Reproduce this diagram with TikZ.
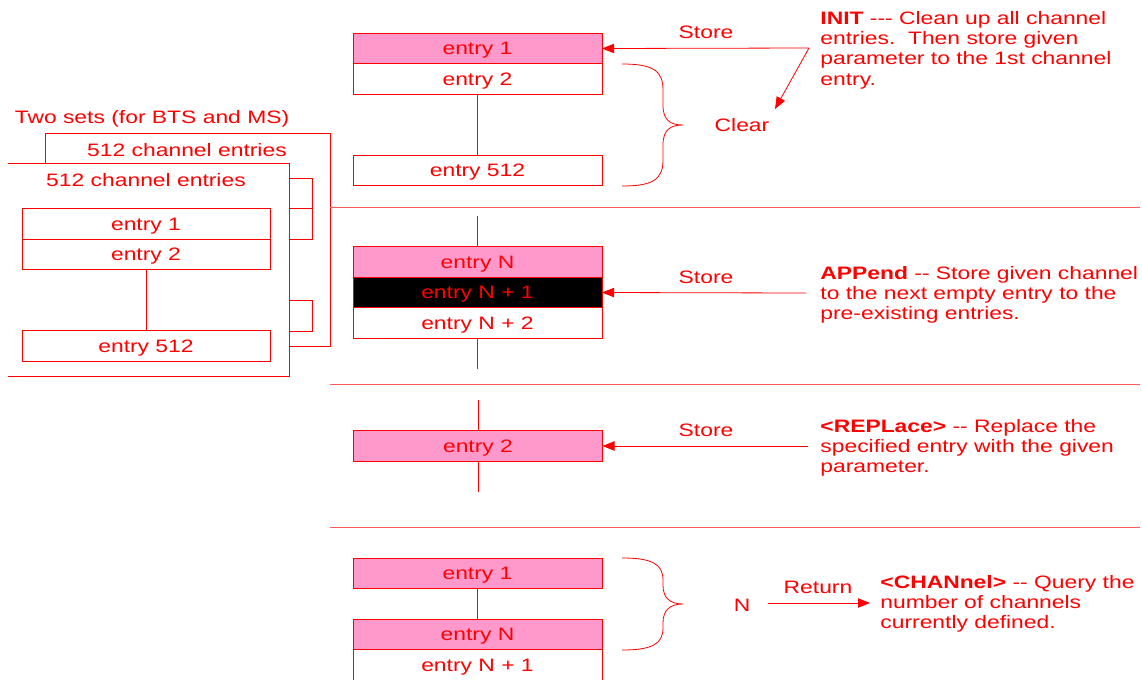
\documentclass[tikz,border=0pt]{standalone}
\usepackage{fontspec}
\setmainfont{Liberation Sans}[FakeStretch=1.27]
\usetikzlibrary{arrows.meta}
\definecolor{ink}{rgb}{1,0,0}
\definecolor{rose}{HTML}{FF99CC}
\definecolor{sep}{rgb}{1,0.35,0.35}
\begin{document}
\begin{tikzpicture}[x=0.75pt,y=-0.75pt,line width=0.6pt,
  every node/.style={text=ink,font=\fontsize{13.5pt}{15.2pt}\selectfont,inner sep=0pt},
  cell/.style={draw=ink,rectangle,minimum width=186.75pt,minimum height=22.9pt,outer sep=0pt,text depth=0pt},
  lcell/.style={cell,minimum width=186pt},
  hot/.style={fill=rose},
  lbl/.style={text depth=0pt},
  arr/.style={draw=ink,-{Triangle[length=9pt,width=7pt]}},
  desc/.style={align=left,anchor=north west},
  wire/.style={draw=ink},
  sepline/.style={draw=sep}]
\useasboundingbox (0,0) rectangle (1142,679);

% ---------- left: two sets ----------
\node[lbl] (twosets) at (152,117) {Two sets (for BTS and MS)};
\draw[wire] (45,163) -- (45,133) -- (330,133) -- (330,346) -- (289,346);
\node[lbl] (backlbl) at (187,150) {512 channel entries};
\draw[wire] (8,163) -- (289,163) -- (289,376) -- (8,376);
\node[lbl] (frontlbl) at (146,180) {512 channel entries};
\draw[wire] (289,178) -- (312,178) -- (312,239) -- (289,239);
\draw[wire] (289,208) -- (312,208);
\draw[wire] (289,300) -- (312,300) -- (312,331) -- (289,331);
\node[lcell] (l1) at (146,224) {entry 1};
\node[lcell] (l2) at (146,254.5) {entry 2};
\node[lcell] (l512) at (146,346) {entry 512};
\draw[wire] (l2.south) -- (l512.north);

% ---------- separators ----------
\draw[sepline] (330,207) -- (1140,207);
\draw[sepline] (330,384) -- (1140,384);
\draw[sepline] (330,527) -- (1140,527);

% ---------- INIT ----------
\node[cell,hot] (a1) at (477.5,48.5) {entry 1};
\node[cell] (a2) at (477.5,79) {entry 2};
\node[cell] (a512) at (477.5,170.5) {entry 512};
\draw[wire] (a2.south) -- (a512.north);
\draw[wire] (622,64) .. controls (652,64) and (663,70) .. (663,90) -- (663,105)
  .. controls (663,120) and (670,125) .. (683,125)
  .. controls (670,125) and (663,130) .. (663,145) -- (663,160)
  .. controls (663,180) and (652,186) .. (622,186);
\node[lbl] (clear) at (742,125) {Clear};
\coordinate (s1) at (809,48);
\coordinate (cleartip) at (775,109);
\draw[arr] (s1) -- (a1.east);
\draw[arr] (s1) -- (cleartip);
\node[lbl] (store1) at (706,32) {Store};
\node[desc] (init) at (820,11) {\textbf{INIT} -{}-{}- Clean up all channel\\entries.\ \ Then store given\\parameter to the 1st channel\\entry.};

% ---------- APPend ----------
\node[cell,hot] (bN) at (477.5,262) {entry N};
\node[cell,fill=black] (bN1) at (477.5,292.5) {entry N + 1};
\node[cell] (bN2) at (477.5,323) {entry N + 2};
\draw[wire] (bN.north) -- ++(0,-31);
\draw[wire] (bN2.south) -- ++(0,31);
\coordinate (s2) at (806,293);
\draw[arr] (s2) -- (bN1.east);
\node[lbl] (store2) at (706,277) {Store};
\node[desc] (append) at (820,266) {\textbf{APPend} -{}- Store given channel\\to the next empty entry to the\\pre-existing entries.};

% ---------- REPLace ----------
\node[cell,hot] (c2) at (478,446) {entry 2};
\draw[wire] (c2.north) -- ++(0,-31);
\draw[wire] (c2.south) -- ++(0,31);
\coordinate (s3) at (808,446);
\draw[arr] (s3) -- (c2.east);
\node[lbl] (store3) at (706,430) {Store};
\node[desc] (replace) at (820,419) {\textbf{<REPLace>} -{}- Replace the\\specified entry with the given\\parameter.};

% ---------- CHANnel ----------
\node[cell,hot] (d1) at (477.5,573.5) {entry 1};
\node[cell,hot] (dN) at (477.5,634.5) {entry N};
\node[cell] (dN1) at (477.5,665) {entry N + 1};
\draw[wire] (d1.south) -- (dN.north);
\draw[wire] (622,558) .. controls (652,558) and (663,564) .. (663,580) -- (663,585)
  .. controls (663,598) and (670,604) .. (683,604)
  .. controls (670,604) and (663,610) .. (663,623) -- (663,628)
  .. controls (663,644) and (652,650) .. (622,650);
\node[lbl] (nval) at (742,605) {N};
\coordinate (r0) at (768,603);
\coordinate (r1) at (870,603);
\draw[arr] (r0) -- (r1);
\node[lbl] (ret) at (818,587) {Return};
\node[desc] (chan) at (880,575) {\textbf{<CHANnel>} -{}- Query the\\number of channels\\currently defined.};
\end{tikzpicture}
\end{document}
